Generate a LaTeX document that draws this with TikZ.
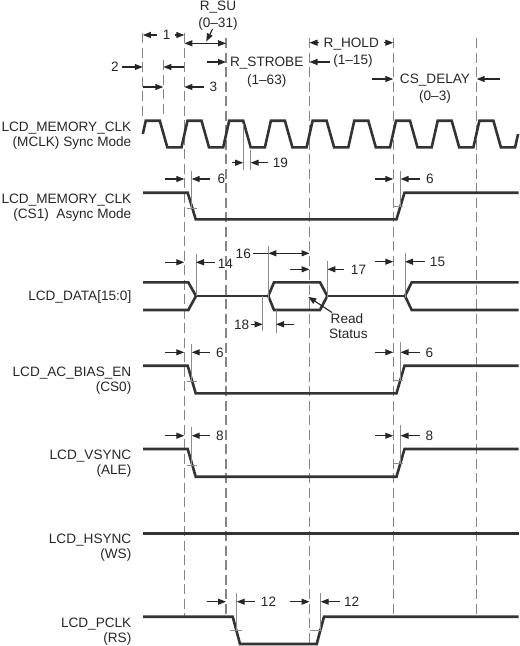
\documentclass[tikz,border=0pt]{standalone}
\usepackage{fontspec}
\setmainfont{Liberation Sans}
\usetikzlibrary{arrows.meta}
\definecolor{wavec}{HTML}{333333}
\definecolor{gridc}{HTML}{858585}
\definecolor{tickc}{HTML}{8C8C8C}
\definecolor{txtc}{HTML}{262626}
\begin{document}
\begin{tikzpicture}[x=1pt,y=-1pt,
  wave/.style={line width=2.6pt,draw=wavec,line join=miter},
  guide/.style={line width=1.2pt,draw=gridc,dash pattern=on 10pt off 4.5pt},
  tk/.style={line width=0.9pt,draw=tickc},
  dimarr/.style={line width=1.1pt,draw=txtc,-{Triangle[length=8pt,width=6pt]}},
  dimboth/.style={line width=1.1pt,draw=txtc,{Triangle[length=8pt,width=6pt]}-{Triangle[length=8pt,width=6pt]}},
  dimline/.style={line width=1.1pt,draw=txtc},
  lbl/.style={font=\fontsize{13.6}{16}\selectfont,text=txtc,inner sep=0pt,text height=9.7pt,text depth=0pt},
  sig/.style={lbl,anchor=east},
]
\useasboundingbox (0,0) rectangle (520,646);

% ---------- guide lines ----------
\draw[guide] (142.8,33) -- (142.8,117);
\draw[guide] (163.3,60) -- (163.3,117);
\draw[guide] (184.3,33) -- (184.3,616.7);
\draw[guide] (226,38) -- (226,616.7);
\draw[guide] (309.5,38) -- (309.5,644);
\draw[guide] (393.3,38) -- (393.3,616.7);
\draw[guide] (476.7,38) -- (476.7,616.7);

% ---------- signal labels ----------
\node[sig] (l1a) at (131.5,126.7) {LCD\_MEMORY\_CLK};
\node[sig] (l1b) at (131.5,141.7) {(MCLK) Sync Mode};
\node[sig] (l2a) at (131.5,198.3) {LCD\_MEMORY\_CLK};
\node[sig] (l2b) at (131.5,213.3) {(CS1)\ \ Async Mode};
\node[sig] (l3) at (131.5,296) {LCD\_DATA[15:0]};
\node[sig] (l4a) at (131.5,371.7) {LCD\_AC\_BIAS\_EN};
\node[sig] (l4b) at (131.5,386.7) {(CS0)};
\node[sig] (l5a) at (131.5,455) {LCD\_VSYNC};
\node[sig] (l5b) at (131.5,470) {(ALE)};
\node[sig] (l6a) at (131.5,539) {LCD\_HSYNC};
\node[sig] (l6b) at (131.5,554) {(WS)};
\node[sig] (l7a) at (131.5,622.7) {LCD\_PCLK};
\node[sig] (l7b) at (131.5,637.7) {(RS)};

% ---------- waveforms ----------
% clock
\draw[wave] (142.8,134) -- (145.8,120.7) -- (159.8,120.7) -- (167.3,147.3) -- (181.5,147.3)
  -- (187.5,120.7) -- (201.5,120.7) -- (209,147.3) -- (223.2,147.3)
  -- (229.2,120.7) -- (243.2,120.7) -- (250.7,147.3) -- (264.9,147.3)
  -- (270.9,120.7) -- (284.9,120.7) -- (292.4,147.3) -- (306.6,147.3)
  -- (312.6,120.7) -- (326.6,120.7) -- (334.1,147.3) -- (348.3,147.3)
  -- (354.3,120.7) -- (368.3,120.7) -- (375.8,147.3) -- (390,147.3)
  -- (396,120.7) -- (410,120.7) -- (417.5,147.3) -- (431.7,147.3)
  -- (437.7,120.7) -- (451.7,120.7) -- (459.2,147.3) -- (473.4,147.3)
  -- (479.4,120.7) -- (493.4,120.7) -- (500.9,147.3) -- (515.1,147.3)
  -- (518.1,134);
% CS1 async
\draw[wave] (143,192.7) -- (187.7,192.7) -- (195.7,219.3) -- (396.5,219.3) -- (404.5,192.7) -- (518.5,192.7);
% data bus
\draw[wave] (143,282.3) -- (188.3,282.3) -- (196,296) -- (188.3,310) -- (143,310);
\draw[wave] (196,296) -- (268.3,296);
\draw[wave] (268.3,296) -- (274,282.3) -- (320,282.3) -- (327.3,296) -- (320,310) -- (274,310) -- cycle;
\draw[wave] (327.3,296) -- (405,296);
\draw[wave] (518.5,282.3) -- (411.7,282.3) -- (405,296) -- (411.7,310) -- (518.5,310);
% AC bias
\draw[wave] (143,365.7) -- (187.7,365.7) -- (195.7,393.3) -- (396.5,393.3) -- (404.5,365.7) -- (518.5,365.7);
% VSYNC
\draw[wave] (143,449) -- (187.7,449) -- (195.7,476.7) -- (396.5,476.7) -- (404.5,449) -- (518.5,449);
% HSYNC
\draw[wave] (143,533.3) -- (518.5,533.3);
% PCLK
\draw[wave] (143,616.7) -- (232.7,616.7) -- (240,644) -- (316.7,644) -- (324,616.7) -- (518.5,616.7);

% ---------- top register annotations ----------
\node[lbl] (rsu) at (218,5.5) {R\_SU};
\node[lbl] (rsur) at (218,22.5) {(0–31)};
\draw[dimarr] (212.5,29) -- (206.3,41.5);
\draw[dimboth] (184.3,43.3) -- (226,43.3);

\node[lbl] (t1) at (166.7,35) {1};
\draw[dimarr] (157,35) -- (142.8,35);
\draw[dimarr] (175,35) -- (184.3,35);

\node[lbl] (t2) at (115,67) {2};
\draw[dimarr] (121.5,67) -- (142.8,67);
\draw[dimarr] (184.3,67) -- (163.3,67);

\node[lbl] (t3) at (213.3,87) {3};
\draw[dimarr] (142.8,87) -- (163.3,87);
\draw[dimarr] (204,87) -- (184.3,87);

\node[lbl] (rstb) at (266.7,62) {R\_STROBE};
\node[lbl] (rstbr) at (266.7,79.5) {(1–63)};
\draw[dimarr] (206.5,62) -- (226,62);
\draw[dimarr] (330,62) -- (309.5,62);

\node[lbl] (rhold) at (351.3,42.7) {R\_HOLD};
\node[lbl] (rholdr) at (353,60) {(1–15)};
\draw[dimarr] (319,42.7) -- (309.5,42.7);
\draw[dimarr] (384,42.7) -- (393.3,42.7);

\node[lbl] (csd) at (435,79) {CS\_DELAY};
\node[lbl] (csdr) at (435,95.5) {(0–3)};
\draw[dimarr] (371.5,79) -- (393.3,79);
\draw[dimarr] (500,79) -- (476.7,79);

% ---------- 19 ----------
\draw[tk] (243.2,124) -- (243.2,170);
\draw[tk] (250.7,150) -- (250.7,170);
\draw[dimarr] (231.5,162.7) -- (243.2,162.7);
\draw[dimarr] (268,162.7) -- (250.7,162.7);
\node[lbl] (t19) at (280.5,162.7) {19};

% ---------- 6 (CS1) ----------
\draw[tk] (191.7,171) -- (191.7,208.3);
\draw[tk] (186.7,208.3) -- (196.7,208.3);
\draw[dimarr] (165,179) -- (184.3,179);
\draw[dimarr] (210,179) -- (191.7,179);
\node[lbl] (t6a) at (221.5,179) {6};
\draw[tk] (400.5,171) -- (400.5,206.3);
\draw[tk] (393.3,206.3) -- (402.5,206.3);
\draw[dimarr] (375,179) -- (393.3,179);
\draw[dimarr] (419.5,179) -- (400.5,179);
\node[lbl] (t6b) at (430,179) {6};

% ---------- data annotations ----------
\draw[tk] (196,254) -- (196,296);
\draw[dimarr] (165,262.3) -- (184.3,262.3);
\draw[dimarr] (215,262.3) -- (196,262.3);
\node[lbl] (t14) at (225.5,263.5) {14};

\draw[tk] (268.3,246) -- (268.3,300);
\node[lbl] (t16) at (243.3,253.3) {16};
\draw[dimline] (252.5,253.3) -- (268.3,253.3);
\draw[dimboth] (268.3,253.3) -- (309.5,253.3);

\draw[tk] (327.3,261) -- (327.3,298);
\draw[dimarr] (290,269.3) -- (309.5,269.3);
\draw[dimarr] (343.5,269.3) -- (327.3,269.3);
\node[lbl] (t17) at (358.5,270) {17};

\draw[tk] (405,253) -- (405,298);
\draw[dimarr] (374.5,261.7) -- (393.3,261.7);
\draw[dimarr] (425,261.7) -- (405,261.7);
\node[lbl] (t15) at (437.5,262) {15};

\draw[tk] (262.7,296) -- (262.7,331);
\draw[tk] (276,310) -- (276,333);
\node[lbl] (t18) at (241.7,324.3) {18};
\draw[dimarr] (251,324.3) -- (262.7,324.3);
\draw[dimarr] (293.5,324.3) -- (276,324.3);

\node[lbl] (rd1) at (347,318.3) {Read};
\node[lbl] (rd2) at (348.3,334) {Status};
\draw[dimarr] (332,312.5) -- (308.3,296.8);

% ---------- 6 (CS0) ----------
\draw[tk] (191.7,344) -- (191.7,381.5);
\draw[tk] (186.7,381.5) -- (197.3,381.5);
\draw[dimarr] (165,352.3) -- (184.3,352.3);
\draw[dimarr] (210,352.3) -- (191.7,352.3);
\node[lbl] (t6c) at (220,352.3) {6};
\draw[tk] (400.5,342) -- (400.5,380);
\draw[tk] (393.3,380) -- (402.5,380);
\draw[dimarr] (375,352.3) -- (393.3,352.3);
\draw[dimarr] (419.5,352.3) -- (400.5,352.3);
\node[lbl] (t6d) at (429.5,352.3) {6};

% ---------- 8 (ALE) ----------
\draw[tk] (191.7,427) -- (191.7,465);
\draw[tk] (186.7,465) -- (197.3,465);
\draw[dimarr] (165,435.7) -- (184.3,435.7);
\draw[dimarr] (210,435.7) -- (191.7,435.7);
\node[lbl] (t8a) at (220,435.7) {8};
\draw[tk] (400.5,425) -- (400.5,463.3);
\draw[tk] (393.3,463.3) -- (402.5,463.3);
\draw[dimarr] (375,435.7) -- (393.3,435.7);
\draw[dimarr] (419.5,435.7) -- (400.5,435.7);
\node[lbl] (t8b) at (429.5,435.7) {8};

% ---------- 12 (RS) ----------
\draw[tk] (236.7,593) -- (236.7,630.7);
\draw[tk] (230,630.7) -- (241.7,630.7);
\draw[dimarr] (206.5,601.7) -- (226,601.7);
\draw[dimarr] (255,601.7) -- (236.7,601.7);
\node[lbl] (t12a) at (268.5,601.7) {12};
\draw[tk] (320.7,593) -- (320.7,630);
\draw[tk] (310,630) -- (321.7,630);
\draw[dimarr] (290,601.7) -- (309.5,601.7);
\draw[dimarr] (340,601.7) -- (320.7,601.7);
\node[lbl] (t12b) at (351.7,601.7) {12};
\end{tikzpicture}
\end{document}
